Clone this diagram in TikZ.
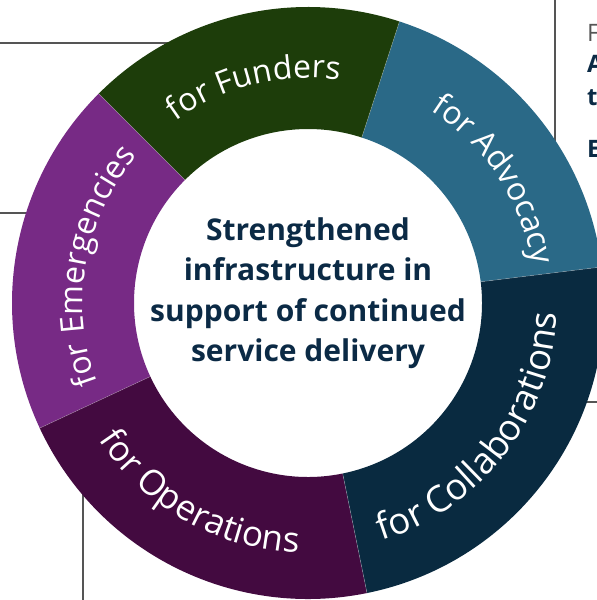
\documentclass[tikz,border=0pt]{standalone}
\usepackage{fontspec}
\setmainfont{Open Sans}
\usetikzlibrary{decorations.text}

\definecolor{funders}{HTML}{1D3D0A}
\definecolor{advocacy}{HTML}{2A6987}
\definecolor{collab}{HTML}{092A40}
\definecolor{operations}{HTML}{430A40}
\definecolor{emergency}{HTML}{772A85}
\definecolor{navytext}{HTML}{0B2A45}
\definecolor{rulegray}{HTML}{555555}

\newcommand{\segfont}{\fontsize{32}{32}\selectfont\color{white}}
\newcommand{\segfontops}{\fontsize{35}{35}\selectfont\color{white}}
\newcommand{\segfontcol}{\fontsize{36.5}{36.5}\selectfont\color{white}}

\tikzset{
  rule/.style={draw=rulegray, line width=1.3pt},
  seam/.style={draw=white, line width=0.5pt, opacity=0.35},
  outlabel/.style={decorate, decoration={text along path, text align=center, text={#1}}},
}

\begin{document}
\begin{tikzpicture}[x=1pt, y=1pt]
        \useasboundingbox (-308,-297) rectangle (289,303);

        % Rules behind the ring:
        \coordinate (ruleA-l) at (-308,260);
        \coordinate (ruleA-r) at (-140,260);
        \coordinate (ruleB-l) at (-308,90);
        \coordinate (ruleB-r) at (-280,90);
        \coordinate (ruleC-t) at (247,303);
        \coordinate (ruleC-b) at (247,160);
        \coordinate (ruleD-b) at (-225,-297);
        \coordinate (ruleD-t) at (-225,-190);
        \coordinate (ruleE-l) at (275,-99);
        \coordinate (ruleE-r) at (289,-99);
        \draw[rule] (ruleA-l) -- (ruleA-r);
        \draw[rule] (ruleB-l) -- (ruleB-r);
        \draw[rule] (ruleC-t) -- (ruleC-b);
        \draw[rule] (ruleD-b) -- (ruleD-t);
        \draw[rule] (ruleE-l) -- (ruleE-r);

        % Ring segments:
        \fill[advocacy] (7:296) arc[start angle=7, end angle=72, radius=296] -- (72:174) arc[start angle=72, end angle=7, radius=174] -- cycle;
        \fill[funders] (72:296) arc[start angle=72, end angle=135, radius=296] -- (135:174) arc[start angle=135, end angle=72, radius=174] -- cycle;
        \fill[emergency] (135:296) arc[start angle=135, end angle=205, radius=296] -- (205:174) arc[start angle=205, end angle=135, radius=174] -- cycle;
        \fill[operations] (205:296) arc[start angle=205, end angle=281.5, radius=296] -- (281.5:174) arc[start angle=281.5, end angle=205, radius=174] -- cycle;
        \fill[collab] (-78.5:296) arc[start angle=-78.5, end angle=7, radius=296] -- (7:174) arc[start angle=7, end angle=-78.5, radius=174] -- cycle;
        \foreach \a in {7, 72, 135, 205, -78.5}
          \draw[seam] (\a:174) -- (\a:296);

        % Labels along the ring:
        \path[outlabel={|\segfont|for Funders}] (164:225) arc[start angle=164, end angle=44, radius=225];
        \path[outlabel={|\segfont|for Advocacy}] (93.5:228) arc[start angle=93.5, end angle=-26.5, radius=228];
        \path[outlabel={|\segfont|for Emergencies}] (230:225) arc[start angle=230, end angle=110, radius=225];
        \path[outlabel={|\segfontops|for Operations}] (180.5:250) arc[start angle=180.5, end angle=300.5, radius=250];
        \path[outlabel={|\segfontcol|for Collaborations}] (-97.5:249) arc[start angle=-97.5, end angle=22.5, radius=249];

        % Hub text:
        \node[align=center, text=navytext, font=\fontsize{30}{40.5}\selectfont\bfseries] (hub) at (0,10) {Strengthened\\infrastructure in\\support of continued\\service delivery};

        % Cut-off text at the right edge:
        \node[anchor=base west, inner sep=0, text=rulegray, font=\fontsize{24}{24}\selectfont] (sideF) at (279,261) {F};
        \node[anchor=base west, inner sep=0, text=navytext, font=\fontsize{24}{24}\selectfont\bfseries] (sideA) at (279,230) {A};
        \node[anchor=base west, inner sep=0, text=navytext, font=\fontsize{24}{24}\selectfont\bfseries] (sideT) at (279,197) {t};
        \node[anchor=base west, inner sep=0, text=navytext, font=\fontsize{24}{24}\selectfont\bfseries] (sideE) at (279,146) {E};
    \end{tikzpicture}
\end{document}
